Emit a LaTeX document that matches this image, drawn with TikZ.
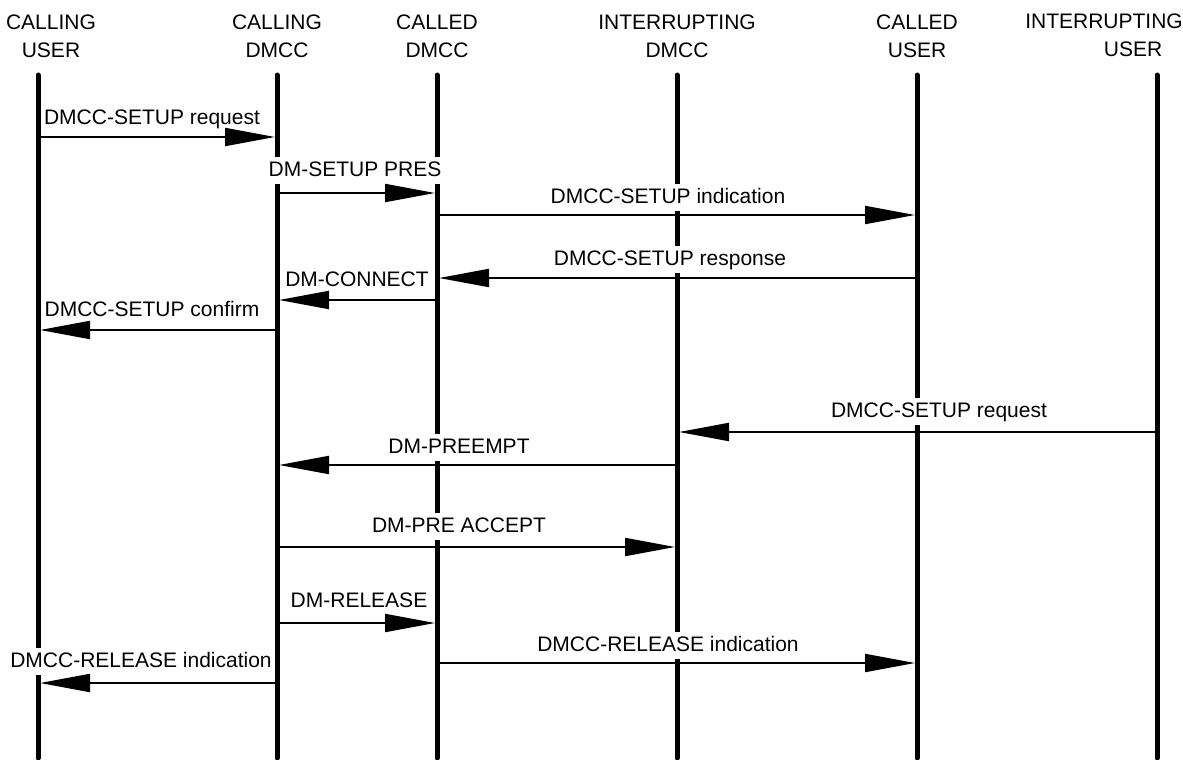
\documentclass[tikz,border=0pt]{standalone}
\usepackage{fontspec}
\setmainfont{Liberation Sans}
\usetikzlibrary{arrows.meta}
\begin{document}
\begin{tikzpicture}[x=1pt,y=-1pt,font=\fontsize{21}{28}\selectfont,
  life/.style={line width=5pt,line cap=round},
  msg/.style={line width=2pt,-{Triangle[length=50pt,width=18pt]},shorten >=2pt},
  lbl/.style={fill=white,anchor=base,inner xsep=2pt,inner ysep=4pt,text height=15pt,text depth=4pt},
  head/.style={align=center,anchor=north,inner sep=0pt}]
\useasboundingbox (0,0) rectangle (1183,760);
\foreach \n/\x in {cu/38,cd/277,dd/437,id/677,du/917,iu/1157}
  {\coordinate (\n) at (\x,75); \coordinate (\n-e) at (\x,758); \draw[life] (\n) -- (\n-e);}
\node[head] (h-cu) at (51,15) {CALLING\\USER};
\node[head] (h-cd) at (277,15) {CALLING\\DMCC};
\node[head] (h-dd) at (437,15) {CALLED\\DMCC};
\node[head] (h-id) at (677,15) {INTERRUPTING\\DMCC};
\node[head] (h-du) at (917,15) {CALLED\\USER};
\node[head] (h-iu) at (1104,14) {INTERRUPTING\\\hspace*{58pt}USER};
\foreach \i/\y/\a/\b/\lx/\ly/\t in {1/137/cu/cd/152/124/DMCC-SETUP request,
    2/193/cd/dd/355/176/DM-SETUP PRES, 3/215/dd/du/668/203/DMCC-SETUP indication,
    4/278/du/dd/670/265/DMCC-SETUP response, 5/300/dd/cd/357/286/DM-CONNECT,
    6/330/cd/cu/152/316/DMCC-SETUP confirm, 7/432/iu/id/939/417/DMCC-SETUP request,
    8/465/id/cd/459/453/DM-PREEMPT, 9/547/cd/id/459/532/DM-PRE ACCEPT,
    10/623/cd/dd/359/607/DM-RELEASE, 11/663/dd/du/668/651/DMCC-RELEASE indication,
    12/683/cd/cu/141/667/DMCC-RELEASE indication}
  {\node[lbl] (m\i) at (\lx,\ly) {\t};
   \path (\a |- 0,\y) coordinate (s\i) (\b |- 0,\y) coordinate (t\i);
   \draw[msg] (s\i) -- (t\i);}
\end{tikzpicture}
\end{document}
